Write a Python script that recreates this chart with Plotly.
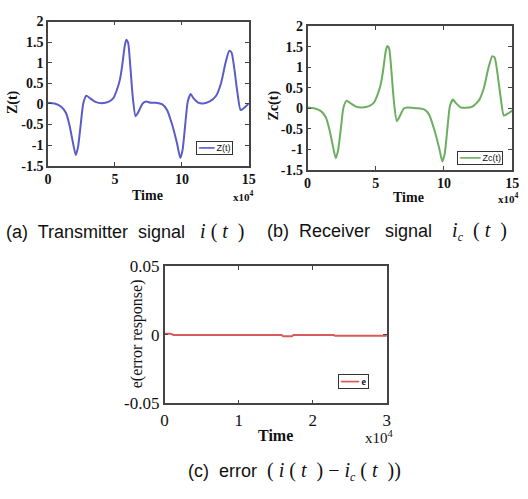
import plotly.graph_objects as go

# ---- data (time in units of 10^4) ----
time_a = [0, 0.49, 0.98, 1.34, 1.59, 1.83, 2.07, 2.24, 2.44, 2.63, 2.85, 3.17, 3.54, 4.02, 4.51,
          4.88, 5.12, 5.37, 5.56, 5.73, 5.85, 5.98, 6.15, 6.34, 6.54, 6.71, 7.07, 7.32, 7.68,
          8.05, 8.54, 8.9, 9.27, 9.64, 9.88, 10.05, 10.25, 10.44, 10.66, 10.86, 11.22, 11.59,
          12.08, 12.56, 12.93, 13.25, 13.54, 13.71, 13.9, 14.15, 14.39, 14.63, 15.0]
z_t = [0.03, 0.01, -0.07, -0.22, -0.5, -0.89, -1.24, -1.04, -0.5, 0.01, 0.2, 0.13, 0.05, 0.02,
       0.05, 0.14, 0.32, 0.59, 0.98, 1.41, 1.56, 1.49, 0.9, 0.13, -0.3, -0.22, 0.01, 0.06, 0.03,
       0.03, -0.01, -0.15, -0.5, -0.96, -1.31, -1.12, -0.5, 0.06, 0.24, 0.14, 0.03, 0.01,
       0.06, 0.2, 0.51, 0.98, 1.29, 1.25, 0.9, 0.28, -0.15, -0.1, 0.01]
time_b = [0, 0.49, 0.98, 1.34, 1.59, 1.83, 2.07, 2.24, 2.44, 2.63, 2.85, 3.17, 3.54, 4.02, 4.51,
          4.88, 5.12, 5.37, 5.56, 5.73, 5.85, 5.98, 6.15, 6.34, 6.54, 6.71, 7.07, 7.32, 7.68,
          8.05, 8.54, 8.9, 9.27, 9.64, 9.88, 10.05, 10.25, 10.44, 10.66, 10.86, 11.22, 11.59,
          12.08, 12.56, 12.93, 13.25, 13.54, 13.71, 13.9, 14.15, 14.39, 14.63, 15.0]
zc_t = [0.02, 0.0, -0.07, -0.22, -0.5, -0.88, -1.22, -1.03, -0.5, 0.01, 0.18, 0.12, 0.04, 0.02,
        0.05, 0.14, 0.32, 0.59, 0.97, 1.39, 1.52, 1.46, 0.9, 0.13, -0.32, -0.23, 0.0, 0.02, 0.01,
        0.0, -0.03, -0.15, -0.5, -0.96, -1.3, -1.12, -0.5, 0.06, 0.21, 0.13, 0.02, 0.01,
        0.04, 0.19, 0.5, 0.97, 1.27, 1.24, 0.9, 0.28, -0.18, -0.14, -0.06]
time_c = [0, 0.08, 0.12, 1.58, 1.6, 1.72, 1.74, 2.28, 2.3, 3.0]
err = [0.0007, 0.0007, -0.0002, -0.0002, -0.0012, -0.0012, -0.0002, -0.0002, -0.0008, -0.0008]

ticks_a_x = [0, 5, 10, 15]
ticks_a_y = [-1.5, -1, -0.5, 0, 0.5, 1, 1.5, 2]
tick_text_y = ["-1.5", "-1", "-0.5", "0", "0.5", "1", "1.5", "2"]
ticks_c_x = [0, 1, 2, 3]
ticks_c_y = [-0.05, 0, 0.05]
tick_text_c_y = ["-0.05", "0", "0.05"]

SERIF = "Liberation Serif"
SANS = "Liberation Sans"
AX = "#444444"
BLUE, GREEN, RED = "#5a5cc8", "#6cae60", "#d95a5a"

fig = go.Figure()
fig.add_trace(go.Scatter(x=time_a, y=z_t, mode="lines", name="Z(t)", showlegend=False,
                         line=dict(color=BLUE, width=2, shape="spline", smoothing=0.6), xaxis="x", yaxis="y"))
fig.add_trace(go.Scatter(x=time_b, y=zc_t, mode="lines", name="Zc(t)", showlegend=False,
                         line=dict(color=GREEN, width=2, shape="spline", smoothing=0.6), xaxis="x2", yaxis="y2"))
fig.add_trace(go.Scatter(x=time_c, y=err, mode="lines", name="e", showlegend=False,
                         line=dict(color=RED, width=2), xaxis="x3", yaxis="y3"))

def axis(domain, anchor, tickvals, ticktext, rng, font):
    return dict(domain=domain, anchor=anchor, range=rng, tickvals=tickvals, ticktext=ticktext,
                ticks="inside", ticklen=4, tickcolor=AX, showline=True, mirror="ticks", linecolor=AX, linewidth=1.5,
                showgrid=False, zeroline=False, tickfont=font, ticklabeloverflow="allow")

FA = dict(family=SERIF, size=14, color="#111", weight="bold")
FC = dict(family=SERIF, size=17, color="#111")

W, H = 528, 499
def px(x): return x / W
def py(y): return 1 - y / H

fig.update_layout(
    width=W, height=H, margin=dict(l=0, r=0, t=0, b=0),
    paper_bgcolor="white", plot_bgcolor="white", showlegend=False,
    xaxis=axis([px(45), px(250)], "y", ticks_a_x, [str(v) for v in ticks_a_x], [0, 15], FA),
    yaxis=axis([py(163), py(13)], "x", ticks_a_y, tick_text_y, [-1.5, 2], FA),
    xaxis2=axis([px(310), px(519)], "y2", ticks_a_x, [str(v) for v in ticks_a_x], [0, 15], FA),
    yaxis2=axis([py(167), py(18)], "x2", ticks_a_y, tick_text_y, [-1.5, 2], FA),
    xaxis3=axis([px(164), px(391)], "y3", ticks_c_x, [str(v) for v in ticks_c_x], [0, 3], FC),
    yaxis3=axis([py(410), py(267)], "x3", ticks_c_y, tick_text_c_y, [-0.05, 0.05], FC),
)

ann = []
def A(x, y, text, family=SERIF, size=13, textangle=0, **kw):
    d = dict(x=px(x), y=py(y), xref="paper", yref="paper", text=text, showarrow=False, textangle=textangle,
             font=dict(family=family, size=size, color="#111"), xanchor="center", yanchor="middle")
    d.update(kw)
    ann.append(d)

# axis titles
A(147, 194, "<b>Time</b>", size=14)
A(245, 194, "<b>x10<sup>4</sup></b>", size=11)
A(413, 196, "<b>Time</b>", size=14)
A(515, 197, "<b>x10<sup>4</sup></b>", size=11)
A(10, 97, "<b>Z(t)</b>", size=14, textangle=-90)
A(276, 100, "<b>Zc(t)</b>", size=14, textangle=-90)
A(277, 443, "<b>Time</b>", size=16)
A(383, 445, "x10<sup>4</sup>", size=15)
A(136, 338, "e(error response)", size=16, textangle=-90)

# legends (boxes)
A(215, 145, "<span style=\"color:%s\">━━━</span> Z(t)" % BLUE, family=SANS, size=9,
  bordercolor="#333", borderwidth=1, borderpad=1, bgcolor="white")
A(486, 155, "<span style=\"color:%s\">━━━━</span> Zc(t)" % GREEN, family=SANS, size=9,
  bordercolor="#333", borderwidth=1, borderpad=1, bgcolor="white")
A(357, 387, "<span style=\"color:%s\">━━━</span> <b>e</b>" % RED, family=SERIF, size=10,
  bordercolor="#333", borderwidth=1, borderpad=1, bgcolor="white")

# captions
M = "font-family:'Liberation Serif';font-style:italic;font-size:20px"
P = "font-family:'Liberation Serif';font-size:20px"
def math_i(sub=False, pad=False):
    s = "<span style=\"%s\">i</span>" % M
    if sub:
        s += "<sub><span style=\"%s;font-size:12px\">c</span></sub>" % M
        if pad:
            s += "<span style=\"%s\">&nbsp;</span>" % P
    return s + "<span style=\"%s\">&nbsp;(&nbsp;</span><span style=\"%s\">t</span><span style=\"%s\">&nbsp;&nbsp;)</span>" % (P, M, P)

A(0, 231, "(a)&nbsp; Transmitter&nbsp; signal&nbsp;&nbsp; " + math_i(), family=SANS, size=18, xanchor="left")
A(267, 231, "(b)&nbsp; Receiver&nbsp;&nbsp; signal&nbsp;&nbsp;&nbsp; " + math_i(True, True), family=SANS, size=18, xanchor="left")
A(297, 481, "(c)&nbsp; error&nbsp; <span style=\"%s\">(&nbsp;</span>" % P + math_i() +
  "<span style=\"%s\"> − </span>" % P + math_i(True) + "<span style=\"%s\">)</span>" % P, family=SANS, size=18)

fig.update_layout(annotations=ann)
fig.write_html("out.html", config={"displayModeBar": False},
               post_script="document.body.style.margin='0';document.body.style.overflow='hidden';")
